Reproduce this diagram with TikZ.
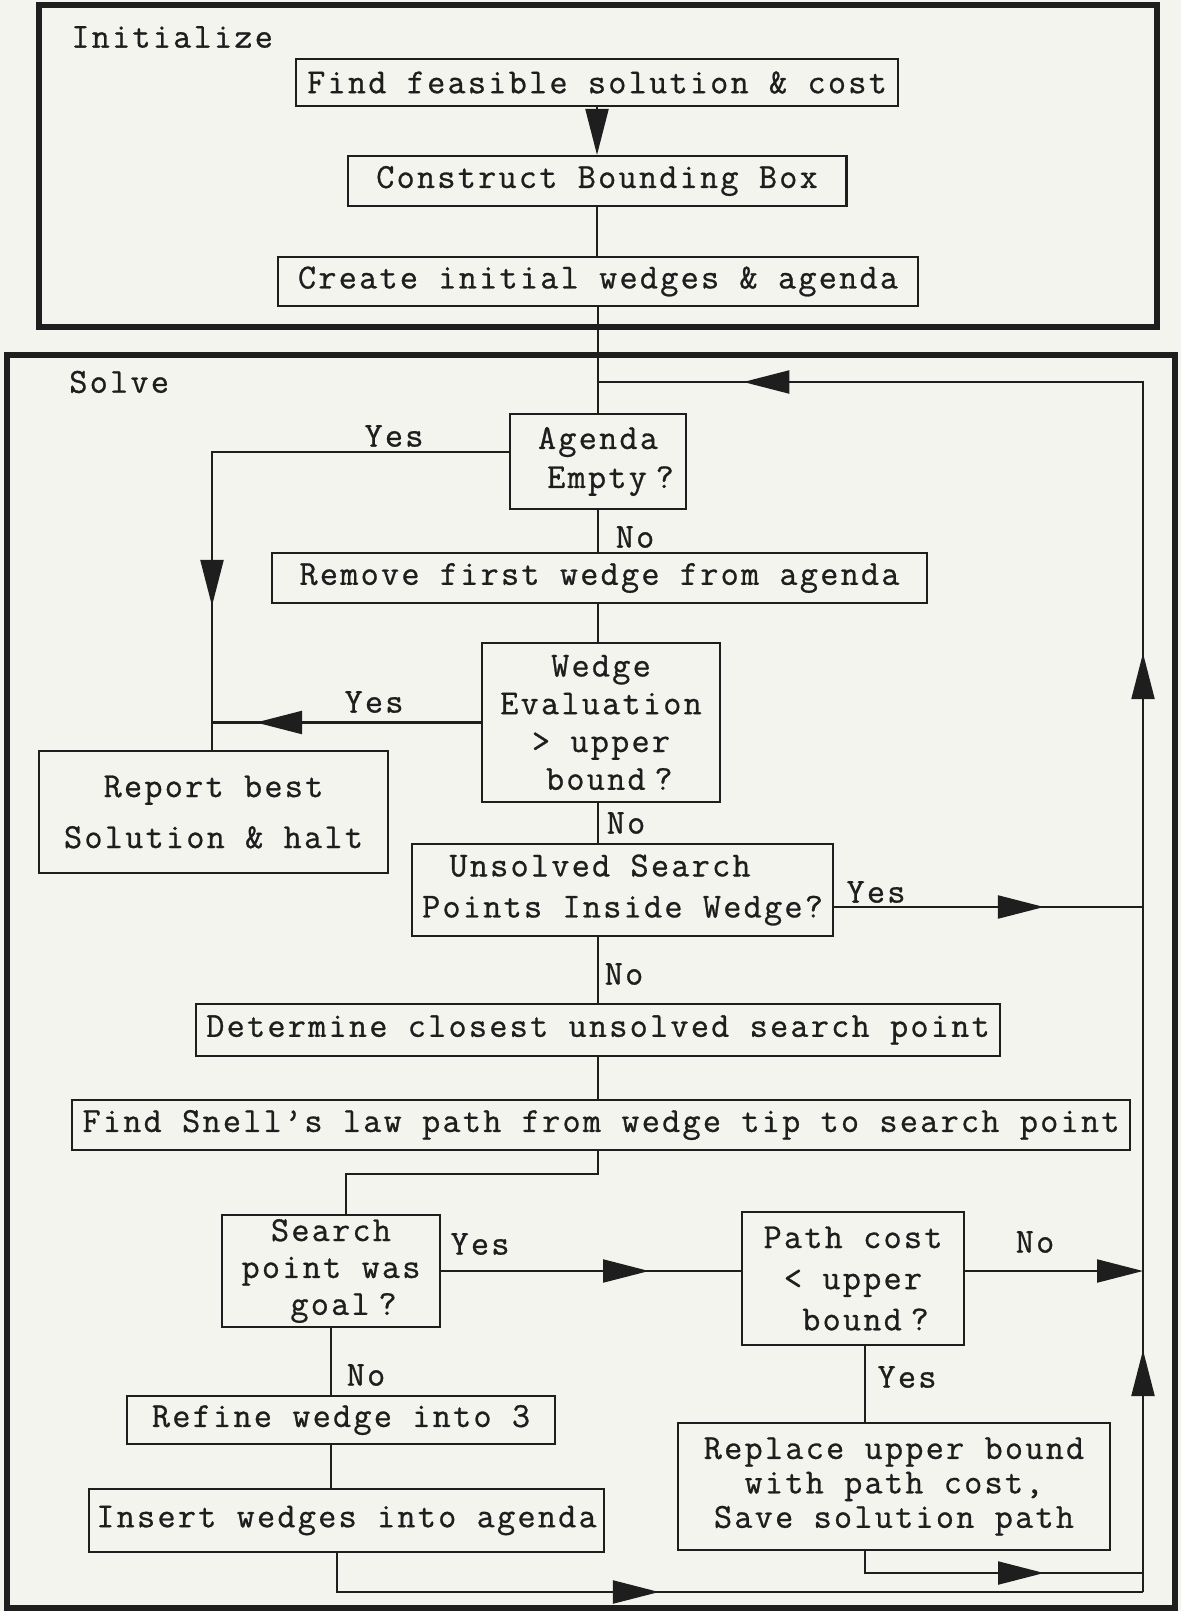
\documentclass[tikz,border=0pt]{standalone}
\usepackage{fontspec}
\usetikzlibrary{arrows.meta,decorations.markings}
\newfontfamily\plotter[LetterSpace=6.5, FakeBold=0.8]{Latin Modern Mono}
\newcommand\boxfont[1][22pt]{\plotter\fontsize{20pt}{#1}\selectfont}
\newcommand\qm{\kern.25em?}
\definecolor{paper}{RGB}{244,244,238}
\definecolor{ink}{RGB}{30,30,30}

\begin{document}
\begin{tikzpicture}[x=0.02cm, y=-0.02cm,
  bigtip/.tip={Triangle[length=9.2mm, width=4.6mm]},
  box/.style={draw=ink, line width=1.2pt, inner sep=0pt, align=center, text=ink, font=\boxfont},
  frame/.style={draw=ink, line width=2.9pt},
  flow/.style={color=ink, line width=1.2pt},
  lbl/.style={text=ink, inner sep=0pt, font=\boxfont},
  tipat/.style={postaction={decorate}, decoration={markings, mark=at position #1 with {\arrow{bigtip}}}}]
\useasboundingbox (0,0) rectangle (1181,1611);
\fill[paper] (0,0) rectangle (1181,1611);
% the two stages
\draw[frame] (39,5) rectangle (1157,327);
\draw[frame] (7,355) rectangle (1175,1608);
\node[lbl, anchor=west] (initlbl) at (71,37) {Initialize};
\node[lbl, anchor=west] (solvelbl) at (69,382) {Solve};
% boxes
\node[box, minimum width=12.04cm, minimum height=0.94cm] (find) at (597,82.5) {Find feasible solution \& cost};
\node[box, minimum width=9.98cm, minimum height=1cm] (construct) at (597,181) {Construct Bounding Box};
\node[box, minimum width=12.8cm, minimum height=0.98cm] (create) at (598,281.5) {Create initial wedges \& agenda};
\node[box, minimum width=3.52cm, minimum height=1.9cm, font={\boxfont[22.2pt]}] (agenda) at (598,461.5) {Agenda\\\hspace*{0.5cm}Empty\qm};
\node[box, minimum width=13.1cm, minimum height=1cm] (remove) at (599.5,578) {Remove first wedge from agenda};
\node[box, minimum width=4.76cm, minimum height=3.18cm, font={\boxfont[21.5pt]}] (wedge) at (601,722.5) {Wedge\\Evaluation\\> upper\\\hspace*{0.33cm}bound\qm};
\node[box, minimum width=6.98cm, minimum height=2.44cm, font={\boxfont[29pt]}] (report) at (213.5,812) {Report best\\Solution \& halt};
\node[box, minimum width=8.42cm, minimum height=1.84cm, font={\boxfont[23.4pt]}] (unsolved) at (622.5,890) {Unsolved Search\hspace*{0.9cm}\\Points Inside Wedge?};
\node[box, minimum width=16.08cm, minimum height=1.04cm] (determine) at (598,1030) {Determine closest unsolved search point};
\node[box, minimum width=21.16cm, minimum height=1cm] (snell) at (601,1125) {Find Snell’s law path from wedge tip to search point};
\node[box, minimum width=4.36cm, minimum height=2.24cm, font={\boxfont[21pt]}] (goal) at (331,1271) {Search\\point was\\\hspace*{0.5cm}goal\qm};
\node[box, minimum width=4.44cm, minimum height=2.66cm, font={\boxfont[23.4pt]}] (pathcost) at (853,1278.5) {Path cost\\< upper\\\hspace*{0.5cm}bound\qm};
\node[box, minimum width=8.56cm, minimum height=0.96cm] (refine) at (341,1420) {Refine wedge into 3};
\node[box, minimum width=10.3cm, minimum height=1.26cm] (insert) at (346.5,1520.5) {Insert wedges into agenda};
\node[box, minimum width=8.64cm, minimum height=2.54cm, font={\boxfont[19.6pt]}] (replace) at (894,1486.5) {Replace upper bound\\with path cost,\\Save solution path};
% main line
\draw[flow, -bigtip] (find) -- (construct);
\draw[flow] (construct.south) -- (construct.south |- create.north);
\draw[flow] (create.south) -- (create.south |- agenda.north);
\draw[flow] (agenda.south) -- (agenda.south |- remove.north);
\draw[flow] (agenda.south |- remove.south) -- (agenda.south |- wedge.north);
\draw[flow] (agenda.south |- wedge.south) -- (agenda.south |- unsolved.north);
\draw[flow] (agenda.south |- unsolved.south) -- (determine.north);
\draw[flow] (determine.south) -- (determine.south |- snell.north);
% return rail
\coordinate (loopin) at (598,382);
\coordinate (railtop) at (1143,382);
\coordinate (railbot) at (1143,1592);
\draw[flow, postaction={decorate}, decoration={markings,
    mark=at position 4.84cm with {\arrow{bigtip}},
    mark=at position 18.78cm with {\arrow{bigtip}},
    mark=at position 32.2cm with {\arrow{bigtip}}}]
  (railbot) -- (railtop) -- (loopin);
% yes / no branches
\coordinate (yesbend) at (212,452);
\draw[flow, tipat=9.02cm] (agenda.west |- yesbend) -- (yesbend) -- (yesbend |- report.north);
\draw[flow, tipat=4.5cm] (wedge.west) -- (wedge.west -| yesbend);
\coordinate (railyes) at (1143,907);
\draw[flow, tipat=4.2cm] (unsolved.east |- railyes) -- (railyes);
\coordinate (goalbend) at (346,1174);
\draw[flow] (determine.south |- snell.south) |- (goalbend) -- (goalbend |- goal.north);
\draw[flow, tipat=4.16cm] (goal.east) -- (goal.east -| pathcost.west);
\draw[flow, -bigtip] (pathcost.east |- goal.east) -- (goal.east -| railbot);
\draw[flow] ([xshift=0.24cm]pathcost.south) -- ([xshift=0.24cm]pathcost.south |- replace.north);
\coordinate (repret) at (1143,1573);
\draw[flow, tipat=4.02cm] ([xshift=-0.58cm]replace.south) |- (repret);
\draw[flow] (goal.south) -- (goal.south |- refine.north);
\draw[flow] (goal.south |- refine.south) -- (goal.south |- insert.north);
\draw[flow, tipat=7.22cm] ([xshift=-0.19cm]insert.south) |- (railbot);
% branch labels
\node[lbl] (yesagenda) at (394,436) {Yes};
\node[lbl] (noagenda) at (635,537) {No};
\node[lbl] (yeswedge) at (374,702) {Yes};
\node[lbl] (nowedge) at (626,823) {No};
\node[lbl] (yesunsolved) at (876,892) {Yes};
\node[lbl] (nounsolved) at (624,974) {No};
\node[lbl] (yesgoal) at (480,1244) {Yes};
\node[lbl] (nogoal) at (366,1375) {No};
\node[lbl] (nocost) at (1035,1242) {No};
\node[lbl] (yescost) at (907,1377) {Yes};
\end{tikzpicture}
\end{document}
